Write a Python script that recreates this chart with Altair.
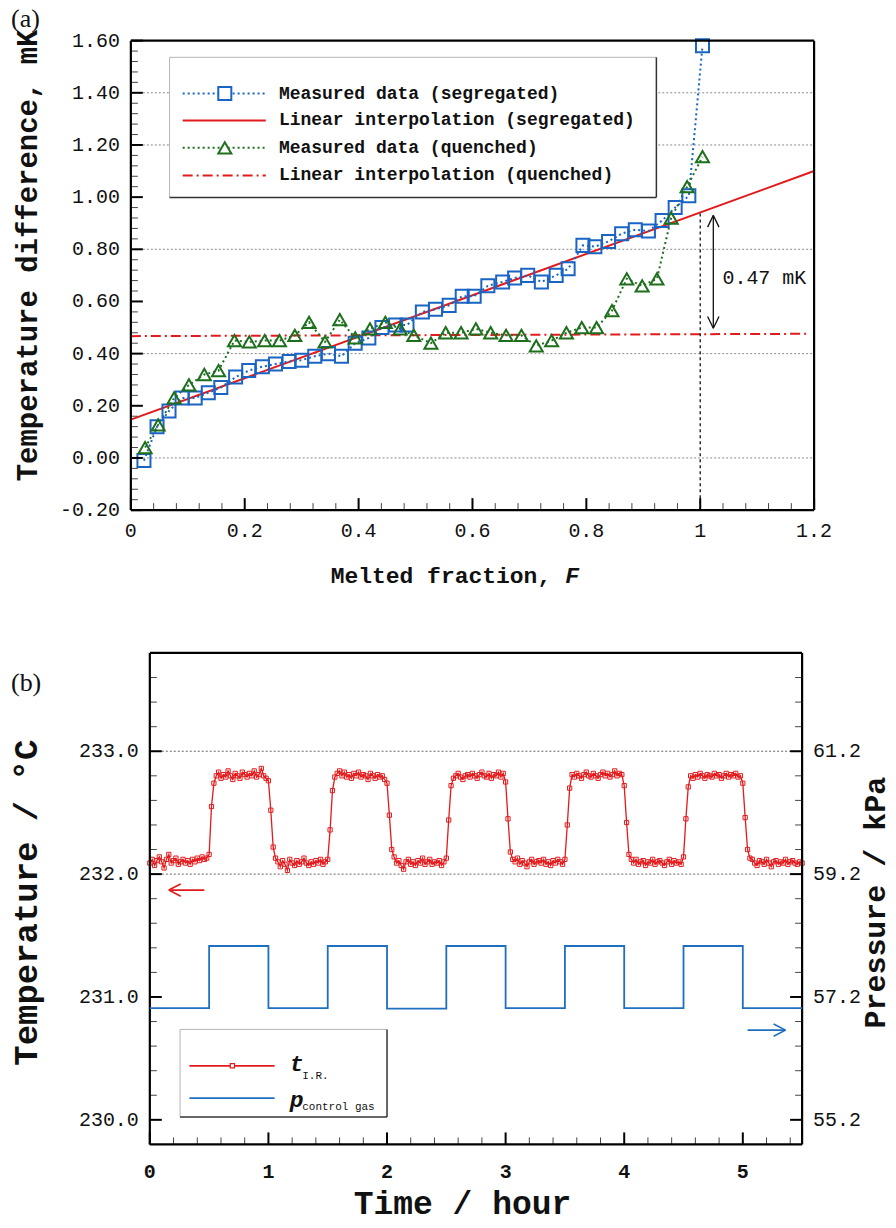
import altair as alt
import pandas as pd

FONT = "Liberation Mono"
SERIF = "Liberation Serif"
BLUE = "#1a64c4"
GREEN = "#1d6f1d"
RED = "#e31a1c"
BLUE_B = "#1f6fbf"
INK = "#111111"

# ---------------- Panel (a) data ----------------
seg_F = [0.023, 0.046, 0.067, 0.090, 0.113, 0.136, 0.158, 0.184, 0.207, 0.231, 0.254,
         0.278, 0.300, 0.323, 0.347, 0.370, 0.394, 0.418, 0.441, 0.465, 0.485, 0.512,
         0.535, 0.559, 0.582, 0.603, 0.627, 0.653, 0.674, 0.697, 0.721, 0.747, 0.768,
         0.794, 0.815, 0.839, 0.862, 0.886, 0.909, 0.933, 0.956, 0.980, 1.004]
seg_T = [-0.01, 0.12, 0.18, 0.23, 0.23, 0.25, 0.27, 0.31, 0.335, 0.35, 0.36,
         0.37, 0.375, 0.39, 0.40, 0.39, 0.44, 0.46, 0.50, 0.51, 0.51, 0.56,
         0.57, 0.585, 0.62, 0.62, 0.66, 0.675, 0.69, 0.70, 0.675, 0.70, 0.725,
         0.815, 0.81, 0.83, 0.86, 0.875, 0.87, 0.91, 0.96, 1.005, 1.58]
que_F = [0.025, 0.048, 0.076, 0.102, 0.129, 0.154, 0.182, 0.208, 0.235, 0.261, 0.288,
         0.313, 0.341, 0.367, 0.394, 0.420, 0.447, 0.473, 0.497, 0.527, 0.553, 0.580,
         0.606, 0.632, 0.659, 0.686, 0.712, 0.739, 0.765, 0.792, 0.818, 0.845, 0.871,
         0.898, 0.924, 0.949, 0.977, 1.004]
que_T = [0.04, 0.127, 0.23, 0.28, 0.32, 0.335, 0.45, 0.445, 0.45, 0.45, 0.47,
         0.52, 0.445, 0.53, 0.46, 0.495, 0.52, 0.495, 0.47, 0.44, 0.48, 0.48,
         0.495, 0.48, 0.47, 0.47, 0.43, 0.45, 0.48, 0.50, 0.50, 0.565, 0.687,
         0.66, 0.687, 0.92, 1.04, 1.155]
fit_seg_F = [0.0, 1.2]
fit_seg_T = [0.147, 1.100]
fit_que_F = [0.0, 1.19]
fit_que_T = [0.467, 0.476]
legend_a_labels = ["Measured data (segregated)", "Linear interpolation (segregated)",
                   "Measured data (quenched)", "Linear interpolation (quenched)"]
gap_label = ["0.47 mK"]

a_x_major = [0.0, 0.2, 0.4, 0.6, 0.8, 1.0, 1.2]
a_x_labels = ["0", "0.2", "0.4", "0.6", "0.8", "1", "1.2"]
a_x_minor = [round(0.04 * k, 2) for k in range(31) if k % 5 != 0]
a_y_major = [-0.2, 0.0, 0.2, 0.4, 0.6, 0.8, 1.0, 1.2, 1.4, 1.6]
a_y_labels = ["-0.20", "0.00", "0.20", "0.40", "0.60", "0.80", "1.00", "1.20", "1.40", "1.60"]
a_y_minor = [round(-0.2 + 0.04 * k, 2) for k in range(46) if k % 5 != 0]
a_grid = [0.0, 0.4, 0.8, 1.2, 1.4]

# ---------------- Panel (b) data ----------------
SAMPLE_STEP_H = 0.02
red_segments = [
    [232.09, 232.12, 232.07, 232.11, 232.14, 232.10, 232.05, 232.12, 232.16, 232.09, 232.11, 232.13, 232.08,
     232.10, 232.12, 232.09, 232.11, 232.08, 232.12, 232.10, 232.13, 232.11, 232.14, 232.12, 232.13],
    [232.16, 232.55, 232.74],
    [232.80, 232.83, 232.78, 232.81, 232.79, 232.84, 232.80, 232.77, 232.82, 232.80, 232.78,
     232.83, 232.81, 232.79, 232.82, 232.80, 232.84, 232.79, 232.81, 232.86, 232.80, 232.78],
    [232.76, 232.52, 232.22, 232.13],
    [232.10, 232.06, 232.11, 232.08, 232.03, 232.12, 232.09, 232.07, 232.11, 232.08, 232.10,
     232.13, 232.09, 232.07, 232.10, 232.08, 232.11, 232.09, 232.12, 232.08, 232.10],
    [232.12, 232.36, 232.68],
    [232.79, 232.82, 232.84, 232.80, 232.83, 232.79, 232.81, 232.78, 232.82, 232.80, 232.83,
     232.79, 232.81, 232.80, 232.77, 232.82, 232.80, 232.78, 232.81, 232.79, 232.80, 232.77],
    [232.74, 232.48, 232.20, 232.14],
    [232.09, 232.11, 232.07, 232.04, 232.10, 232.12, 232.08, 232.10, 232.07, 232.11, 232.09,
     232.13, 232.08, 232.10, 232.12, 232.08, 232.10, 232.09, 232.11, 232.07, 232.10],
    [232.13, 232.44, 232.72],
    [232.78, 232.80, 232.82, 232.79, 232.77, 232.80, 232.81, 232.79, 232.82, 232.80, 232.78,
     232.81, 232.83, 232.80, 232.79, 232.82, 232.78, 232.81, 232.80, 232.83, 232.79, 232.82],
    [232.75, 232.45, 232.18, 232.12],
    [232.10, 232.13, 232.08, 232.11, 232.09, 232.06, 232.10, 232.12, 232.08, 232.10, 232.11,
     232.09, 232.12, 232.08, 232.10, 232.07, 232.11, 232.09, 232.12, 232.10, 232.08],
    [232.12, 232.40, 232.70],
    [232.81, 232.79, 232.82, 232.80, 232.78, 232.81, 232.83, 232.80, 232.79, 232.82, 232.80,
     232.78, 232.81, 232.83, 232.80, 232.82, 232.79, 232.81, 232.84, 232.80, 232.82, 232.81],
    [232.72, 232.42, 232.16, 232.12],
    [232.09, 232.12, 232.08, 232.10, 232.11, 232.07, 232.10, 232.09, 232.12, 232.08, 232.10,
     232.11, 232.09, 232.07, 232.10, 232.12, 232.08, 232.11, 232.09, 232.10, 232.08],
    [232.14, 232.45, 232.71],
    [232.80, 232.78, 232.81, 232.79, 232.82, 232.80, 232.78, 232.81, 232.80, 232.79, 232.82,
     232.80, 232.81, 232.78, 232.80, 232.82, 232.79, 232.81, 232.80, 232.82, 232.79, 232.80],
    [232.74, 232.46, 232.20, 232.13],
    [232.12, 232.09, 232.07, 232.11, 232.10, 232.08, 232.12, 232.09, 232.06, 232.10, 232.11,
     232.08, 232.10, 232.09, 232.12, 232.08, 232.10, 232.11, 232.09, 232.08, 232.10, 232.09],
]
red_temp = [v for seg in red_segments for v in seg]
red_t = [round(i * SAMPLE_STEP_H, 2) for i in range(len(red_temp))]

blue_t = [0.0, 0.5, 0.5, 1.0, 1.0, 1.5, 1.5, 2.0, 2.0, 2.5, 2.5, 3.0, 3.0,
          3.5, 3.5, 4.0, 4.0, 4.5, 4.5, 5.0, 5.0, 5.5]
blue_p = [57.02, 57.02, 58.03, 58.03, 57.02, 57.02, 58.03, 58.03, 57.01, 57.01, 58.03, 58.03, 57.02,
          57.02, 58.03, 58.03, 57.02, 57.02, 58.03, 58.03, 57.02, 57.02]

b_x_major = [0, 1, 2, 3, 4, 5]
b_x_labels = ["0", "1", "2", "3", "4", "5"]
b_x_minor = [round(0.2 * k, 1) for k in range(1, 28) if k % 5 != 0]
b_yl_major = [230.0, 231.0, 232.0, 233.0]
b_yl_labels = ["230.0", "231.0", "232.0", "233.0"]
b_yl_minor = [round(229.8 + 0.2 * k, 1) for k in range(1, 20) if k % 5 != 1]
b_yr_major = [55.2, 57.2, 59.2, 61.2]
b_yr_labels = ["55.2", "57.2", "59.2", "61.2"]
b_grid = [232.0, 233.0]

# ---------------- Panel (a) chart ----------------
W1, H1 = 684, 470
sF = alt.Scale(domain=[0, 1.2], nice=False, zero=False)
sTa = alt.Scale(domain=[-0.2, 1.6], nice=False, zero=False)


def xa(field):
    return alt.X(f"{field}:Q", scale=sF, axis=None)


def ya(field):
    return alt.Y(f"{field}:Q", scale=sTa, axis=None)


def seg_rules(df, color, width, dash=None, xs=xa, ys=ya):
    kw = dict(color=color, strokeWidth=width)
    if dash:
        kw["strokeDash"] = dash
    return alt.Chart(df).mark_rule(**kw).encode(
        x=xs("x"), x2=alt.X2("x2"), y=ys("y"), y2=alt.Y2("y2"))


def free_text(label, x, y, size, weight="normal", style="normal", angle=0, align="center",
              baseline="middle", font=FONT):
    kw = dict(align=align, baseline=baseline, font=font, fontSize=size, fontWeight=weight,
              fontStyle=style, color=INK)
    if angle:
        kw["angle"] = angle
    return alt.Chart(pd.DataFrame({"label": [label]})).mark_text(**kw).encode(
        text="label:N", x=alt.value(x), y=alt.value(y))


grid_a = alt.Chart(pd.DataFrame({"T": a_grid})).mark_rule(
    color="#8a8a8a", strokeWidth=1, strokeDash=[2, 2]).encode(
    y=ya("T"), x=alt.value(0), x2=alt.value(W1))

box_a = alt.Chart(pd.DataFrame({"x": [0.068], "x2": [0.923], "y": [0.999], "y2": [1.536]})).mark_rect(
    fill="white").encode(x=xa("x"), x2=alt.X2("x2"), y=ya("y"), y2=alt.Y2("y2"))
box_a_light = seg_rules(pd.DataFrame({"x": [0.068, 0.068], "x2": [0.923, 0.068],
                                      "y": [1.536, 0.999], "y2": [1.536, 1.536]}), "#b5b5b5", 1)
box_a_dark = seg_rules(pd.DataFrame({"x": [0.068, 0.923], "x2": [0.923, 0.923],
                                     "y": [0.999, 0.999], "y2": [0.999, 1.536]}), "#333333", 1.5)

df_fit_seg = pd.DataFrame({"F": fit_seg_F, "T": fit_seg_T})
df_fit_que = pd.DataFrame({"F": fit_que_F, "T": fit_que_T})
fit_seg = alt.Chart(df_fit_seg).mark_line(color=RED, strokeWidth=2).encode(x=xa("F"), y=ya("T"))
fit_que = alt.Chart(df_fit_que).mark_line(color=RED, strokeWidth=2, strokeDash=[10, 4, 2, 4]).encode(
    x=xa("F"), y=ya("T"))

vline = seg_rules(pd.DataFrame({"x": [1.0], "x2": [1.0], "y": [-0.2], "y2": [0.94]}), INK, 1.3, [3, 3])

df_seg = pd.DataFrame({"F": seg_F, "T": seg_T})
df_que = pd.DataFrame({"F": que_F, "T": que_T})
seg_line = alt.Chart(df_seg).mark_line(color=BLUE, strokeWidth=2, strokeDash=[2, 3]).encode(
    x=xa("F"), y=ya("T"))
que_line = alt.Chart(df_que).mark_line(color=GREEN, strokeWidth=2, strokeDash=[2, 3]).encode(
    x=xa("F"), y=ya("T"))
seg_pts = alt.Chart(df_seg).mark_point(shape="square", size=170, filled=False, color=BLUE,
                                       strokeWidth=2, opacity=1).encode(x=xa("F"), y=ya("T"))
que_pts = alt.Chart(df_que).mark_point(shape="triangle-up", size=170, filled=False, color=GREEN,
                                       strokeWidth=2, opacity=1).encode(x=xa("F"), y=ya("T"))

xt_a_maj = alt.Chart(pd.DataFrame({"F": a_x_major})).mark_rule(color="black", strokeWidth=2).encode(
    x=xa("F"), y=alt.value(H1), y2=alt.value(H1 - 12))
xt_a_min = alt.Chart(pd.DataFrame({"F": a_x_minor})).mark_rule(color="#444", strokeWidth=1).encode(
    x=xa("F"), y=alt.value(H1), y2=alt.value(H1 - 7))
yt_a_maj = alt.Chart(pd.DataFrame({"T": a_y_major})).mark_rule(color="black", strokeWidth=2).encode(
    y=ya("T"), x=alt.value(0), x2=alt.value(12))
yt_a_min = alt.Chart(pd.DataFrame({"T": a_y_minor})).mark_rule(color="#444", strokeWidth=1).encode(
    y=ya("T"), x=alt.value(0), x2=alt.value(7))

frame_a = seg_rules(pd.DataFrame({"x": [0, 0, 0, 1.2], "x2": [1.2, 1.2, 0, 1.2],
                                  "y": [-0.2, 1.6, -0.2, -0.2], "y2": [-0.2, 1.6, 1.6, 1.6]}),
                    "black", 2.2)

xlab_a = alt.Chart(pd.DataFrame({"F": a_x_major, "label": a_x_labels})).mark_text(
    align="center", baseline="middle", font=FONT, fontSize=20, color=INK).encode(
    x=xa("F"), y=alt.value(H1 + 21), text="label:N")
ylab_a = alt.Chart(pd.DataFrame({"T": a_y_major, "label": a_y_labels})).mark_text(
    align="right", baseline="middle", font=FONT, fontSize=20, color=INK).encode(
    y=ya("T"), x=alt.value(-11), text="label:N")
xtitle_a1 = free_text("Melted fraction, ", 200, H1 + 66, 23, weight="bold", align="left")
xtitle_a2 = free_text("F", 435, H1 + 66, 23, weight="bold", style="italic", align="left")
ytitle_a = free_text("Temperature difference, mK", -94, 215, 29, weight="bold", angle=270,
                     baseline="alphabetic")

arrow_a = seg_rules(pd.DataFrame({
    "x": [1.023, 1.023, 1.023, 1.023, 1.023],
    "x2": [1.023, 1.013, 1.033, 1.013, 1.033],
    "y": [0.497, 0.93, 0.93, 0.497, 0.497],
    "y2": [0.93, 0.885, 0.885, 0.542, 0.542]}), INK, 1.3)
gap_text = alt.Chart(pd.DataFrame({"F": [1.039], "T": [0.69], "label": gap_label})).mark_text(
    align="left", baseline="middle", font=FONT, fontSize=20, color=INK).encode(
    x=xa("F"), y=ya("T"), text="label:N")

leg_rows = [1.397, 1.294, 1.189, 1.083]
leg1 = seg_rules(pd.DataFrame({"x": [0.091], "x2": [0.237], "y": [leg_rows[0]], "y2": [leg_rows[0]]}),
                 BLUE, 2, [2, 3])
leg2 = seg_rules(pd.DataFrame({"x": [0.091], "x2": [0.237], "y": [leg_rows[1]], "y2": [leg_rows[1]]}),
                 RED, 2)
leg3 = seg_rules(pd.DataFrame({"x": [0.091], "x2": [0.237], "y": [leg_rows[2]], "y2": [leg_rows[2]]}),
                 GREEN, 2, [2, 3])
leg4 = seg_rules(pd.DataFrame({"x": [0.091], "x2": [0.237], "y": [leg_rows[3]], "y2": [leg_rows[3]]}),
                 RED, 2, [10, 4, 2, 4])
leg_sq = alt.Chart(pd.DataFrame({"F": [0.165], "T": [leg_rows[0]]})).mark_point(
    shape="square", size=170, filled=True, fill="white", stroke=BLUE, strokeWidth=2,
    opacity=1).encode(x=xa("F"), y=ya("T"))
leg_tr = alt.Chart(pd.DataFrame({"F": [0.165], "T": [leg_rows[2]]})).mark_point(
    shape="triangle-up", size=170, filled=True, fill="white", stroke=GREEN,
    strokeWidth=2, opacity=1).encode(x=xa("F"), y=ya("T"))
leg_txt = alt.Chart(pd.DataFrame({"F": [0.26] * 4, "T": leg_rows, "label": legend_a_labels})).mark_text(
    align="left", baseline="middle", font=FONT, fontSize=18, fontWeight="bold", color=INK).encode(
    x=xa("F"), y=ya("T"), text="label:N")
label_a = free_text("(a)", -120, -22, 26, align="left", font=SERIF)

top = alt.layer(
    grid_a, box_a, box_a_light, box_a_dark, fit_que, fit_seg, vline, seg_line, que_line,
    seg_pts, que_pts, xt_a_maj, xt_a_min, yt_a_maj, yt_a_min, frame_a, arrow_a, gap_text,
    leg1, leg2, leg3, leg4, leg_sq, leg_tr, leg_txt, xlab_a, ylab_a, xtitle_a1, xtitle_a2,
    ytitle_a, label_a
).properties(width=W1, height=H1)

# ---------------- Panel (b) chart ----------------
W2, H2 = 672, 492
X0 = 19
st = alt.Scale(domain=[0, 5.5], range=[X0, W2], nice=False, zero=False)
sL = alt.Scale(domain=[229.8, 233.8], nice=False, zero=False)
sR = alt.Scale(domain=[54.8, 62.8], nice=False, zero=False)


def xb(field):
    return alt.X(f"{field}:Q", scale=st, axis=None)


def yl(field):
    return alt.Y(f"{field}:Q", scale=sL, axis=None)


def yr(field):
    return alt.Y(f"{field}:Q", scale=sR, axis=None)


grid_b = alt.Chart(pd.DataFrame({"T": b_grid})).mark_rule(
    color="#666", strokeWidth=1, strokeDash=[2, 2]).encode(
    y=yl("T"), x=alt.value(X0), x2=alt.value(W2))

df_red = pd.DataFrame({"t": red_t, "temp": red_temp})
red_line = alt.Chart(df_red).mark_line(color=RED, strokeWidth=1.3).encode(x=xb("t"), y=yl("temp"))
red_pts = alt.Chart(df_red).mark_point(shape="square", size=18, filled=False, color=RED,
                                       strokeWidth=1, opacity=1).encode(x=xb("t"), y=yl("temp"))

xt_b_maj = alt.Chart(pd.DataFrame({"t": b_x_major})).mark_rule(color="black", strokeWidth=2).encode(
    x=xb("t"), y=alt.value(H2), y2=alt.value(H2 - 12))
xt_b_min = alt.Chart(pd.DataFrame({"t": b_x_minor})).mark_rule(color="#444", strokeWidth=1).encode(
    x=xb("t"), y=alt.value(H2), y2=alt.value(H2 - 7))
ylt_maj = alt.Chart(pd.DataFrame({"T": b_yl_major})).mark_rule(color="black", strokeWidth=2).encode(
    y=yl("T"), x=alt.value(X0), x2=alt.value(X0 + 12))
ylt_min = alt.Chart(pd.DataFrame({"T": b_yl_minor})).mark_rule(color="#444", strokeWidth=1).encode(
    y=yl("T"), x=alt.value(X0), x2=alt.value(X0 + 7))
yrt_maj = alt.Chart(pd.DataFrame({"T": b_yl_major})).mark_rule(color="black", strokeWidth=2).encode(
    y=yl("T"), x=alt.value(W2), x2=alt.value(W2 - 12))
yrt_min = alt.Chart(pd.DataFrame({"T": b_yl_minor})).mark_rule(color="#444", strokeWidth=1).encode(
    y=yl("T"), x=alt.value(W2), x2=alt.value(W2 - 7))

frame_b = seg_rules(pd.DataFrame({"x": [0, 0, 0, 5.5], "x2": [5.5, 5.5, 0, 5.5],
                                  "y": [229.8, 233.8, 229.8, 229.8],
                                  "y2": [229.8, 233.8, 233.8, 233.8]}),
                    "black", 2.2, xs=xb, ys=yl)

red_arrow = seg_rules(pd.DataFrame({"x": [0.16, 0.16, 0.16], "x2": [0.46, 0.26, 0.26],
                                    "y": [231.87, 231.87, 231.87],
                                    "y2": [231.87, 231.92, 231.82]}), RED, 1.6, xs=xb, ys=yl)

box_b = alt.Chart(pd.DataFrame({"x": [0.255], "x2": [2.0], "y": [230.023], "y2": [230.736]})).mark_rect(
    fill="white").encode(x=xb("x"), x2=alt.X2("x2"), y=yl("y"), y2=alt.Y2("y2"))
box_b_light = seg_rules(pd.DataFrame({"x": [0.255, 0.255], "x2": [2.0, 0.255],
                                      "y": [230.736, 230.023], "y2": [230.736, 230.736]}),
                        "#b5b5b5", 1, xs=xb, ys=yl)
box_b_dark = seg_rules(pd.DataFrame({"x": [0.255, 2.0], "x2": [2.0, 2.0],
                                     "y": [230.023, 230.023], "y2": [230.023, 230.736]}),
                       "#333333", 1.5, xs=xb, ys=yl)
leg_b_red = seg_rules(pd.DataFrame({"x": [0.334], "x2": [1.052], "y": [230.44], "y2": [230.44]}),
                      RED, 1.8, xs=xb, ys=yl)
leg_b_blue = seg_rules(pd.DataFrame({"x": [0.334], "x2": [1.052], "y": [230.177], "y2": [230.177]}),
                       BLUE_B, 1.8, xs=xb, ys=yl)
leg_b_sq = alt.Chart(pd.DataFrame({"t": [0.696], "T": [230.44]})).mark_point(
    shape="square", size=18, filled=True, fill="white", stroke=RED, strokeWidth=1.2,
    opacity=1).encode(x=xb("t"), y=yl("T"))
leg_b_main = alt.Chart(pd.DataFrame({"t": [1.18, 1.18], "T": [230.455, 230.16],
                                     "label": ["t", "p"]})).mark_text(
    align="left", baseline="middle", font=FONT, fontSize=23, fontWeight="bold",
    fontStyle="italic", color=INK).encode(x=xb("t"), y=yl("T"), text="label:N")
leg_b_sub = alt.Chart(pd.DataFrame({"t": [1.285, 1.285], "T": [230.36, 230.105],
                                    "label": ["I.R.", "control gas"]})).mark_text(
    align="left", baseline="middle", font=FONT, fontSize=11, color=INK).encode(
    x=xb("t"), y=yl("T"), text="label:N")

xlab_b = alt.Chart(pd.DataFrame({"t": b_x_major, "label": b_x_labels})).mark_text(
    align="center", baseline="middle", font=FONT, fontSize=20, fontWeight="bold", color=INK).encode(
    x=xb("t"), y=alt.value(H2 + 28), text="label:N")
yllab_b = alt.Chart(pd.DataFrame({"T": b_yl_major, "label": b_yl_labels})).mark_text(
    align="right", baseline="middle", font=FONT, fontSize=20, color=INK).encode(
    y=yl("T"), x=alt.value(X0 - 11), text="label:N")
xtitle_b = free_text("Time / hour", 332, 552, 33, weight="bold")
ytitle_bl = free_text("Temperature / °C", -94, 250, 34, weight="bold", angle=270,
                      baseline="alphabetic")
label_b = free_text("(b)", -120, 30, 26, align="left", font=SERIF)

# white corner marker: pins the page extent to the 896 x 1228 window
page_corner = alt.Chart(pd.DataFrame({"k": [0]})).mark_rule(color="white", strokeWidth=1).encode(
    x=alt.value(764), x2=alt.value(765), y=alt.value(573), y2=alt.value(574))

df_blue = pd.DataFrame({"t": blue_t, "p": blue_p, "i": list(range(len(blue_t)))})
blue_line = alt.Chart(df_blue).mark_line(color=BLUE_B, strokeWidth=1.8).encode(
    x=xb("t"), y=yr("p"), order="i:Q")
blue_arrow = seg_rules(pd.DataFrame({"x": [5.04, 5.36, 5.36], "x2": [5.36, 5.26, 5.26],
                                     "y": [56.66, 56.66, 56.66], "y2": [56.66, 56.76, 56.56]}),
                       BLUE_B, 1.6, xs=xb, ys=yr)
yrlab_b = alt.Chart(pd.DataFrame({"P": b_yr_major, "label": b_yr_labels})).mark_text(
    align="left", baseline="middle", font=FONT, fontSize=20, color=INK).encode(
    y=yr("P"), x=alt.value(W2 + 11), text="label:N")
ytitle_br = free_text("Pressure / kPa", 755, 250, 30, weight="bold", angle=270,
                      baseline="alphabetic")

left_b = alt.layer(
    page_corner, grid_b, box_b, box_b_light, box_b_dark, red_line, red_pts, xt_b_maj, xt_b_min,
    ylt_maj, ylt_min, yrt_maj, yrt_min, frame_b, red_arrow, leg_b_red, leg_b_blue, leg_b_sq,
    leg_b_main, leg_b_sub, xlab_b, yllab_b, xtitle_b, ytitle_bl, label_b, ytitle_br)
right_b = alt.layer(blue_line, blue_arrow, yrlab_b)
bottom = alt.layer(left_b, right_b).resolve_scale(y="independent").properties(width=W2, height=H2)

chart = alt.vconcat(top, bottom, spacing=143, bounds="flush").properties(
    padding={"left": 10, "top": 5, "right": 0, "bottom": 0}, background="white"
).configure_view(strokeWidth=0)

chart.save("out.html", embed_options={"renderer": "svg", "actions": False})
